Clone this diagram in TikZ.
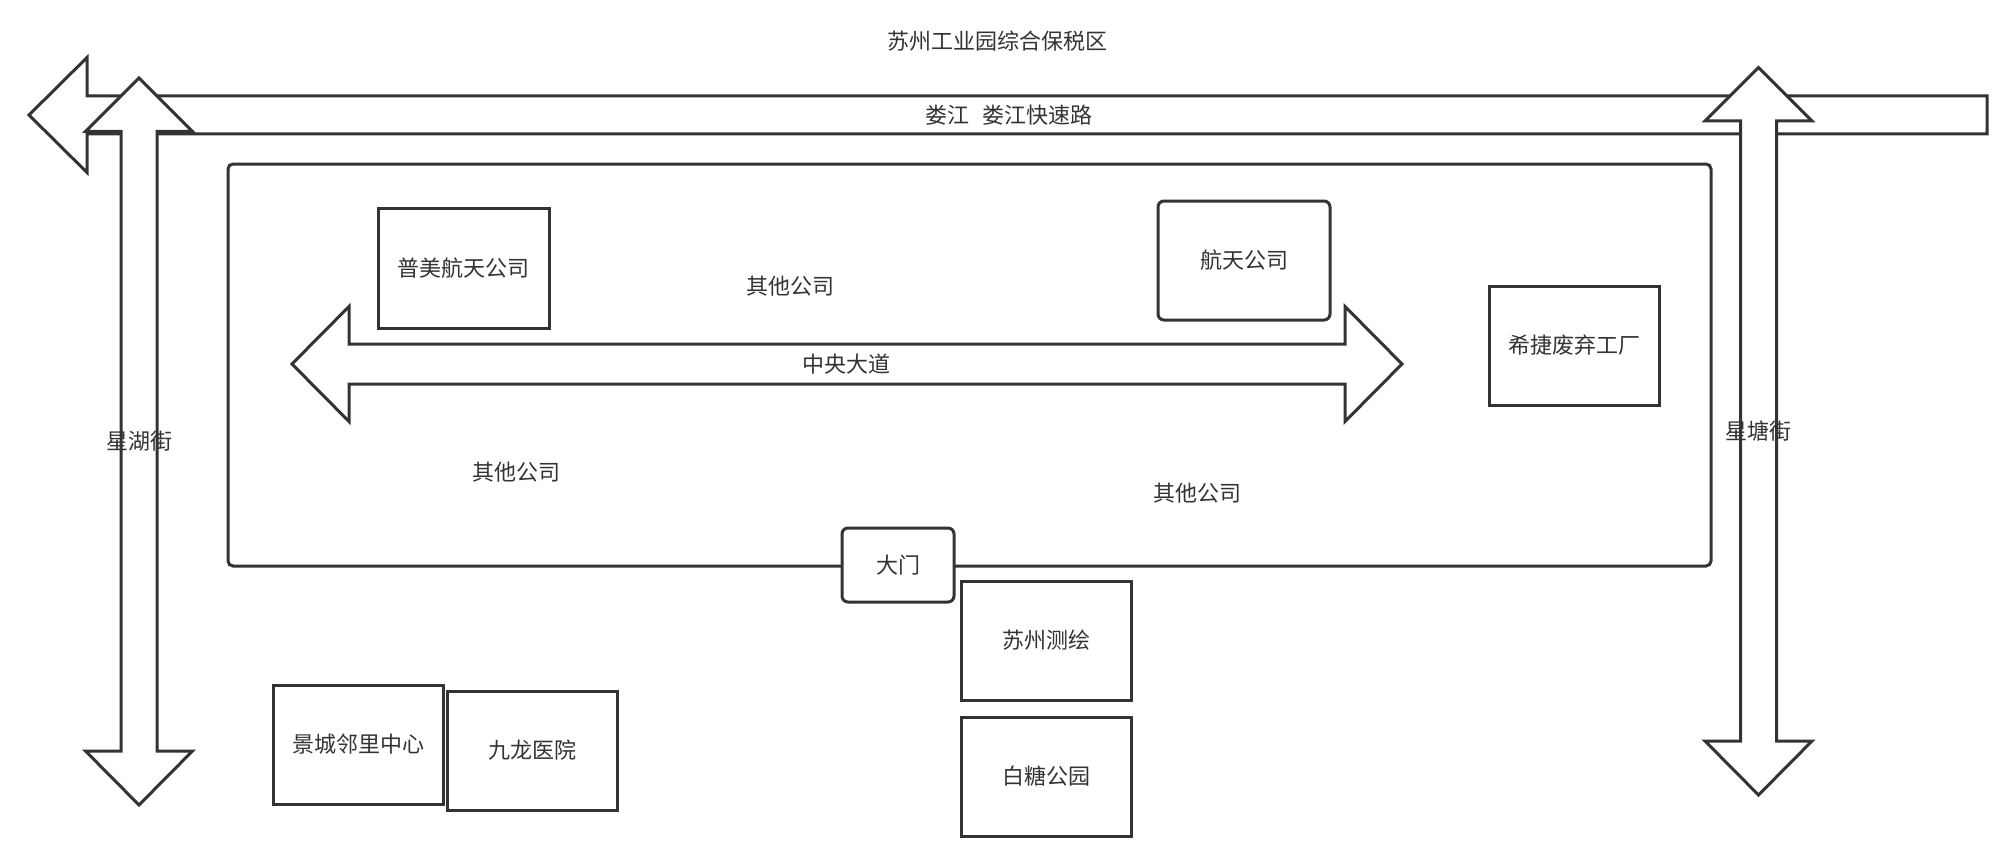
\documentclass[tikz,border=0pt]{standalone}
\usepackage{fontspec}
\setmainfont{Noto Sans CJK SC}
\definecolor{ink}{HTML}{333333}
\begin{document}
\begin{tikzpicture}[x=1pt,y=-1pt,
  lbl/.style={text=ink,font=\fontsize{22}{26}\selectfont,inner sep=0pt},
  road/.style={draw=ink,line width=3pt,fill=white,line join=miter},
  place/.style={draw=ink,line width=3pt,fill=white,inner sep=0pt,text=ink,font=\fontsize{22}{26}\selectfont},
  rplace/.style={place,rounded corners=6pt}]
\useasboundingbox (0,0) rectangle (2004,864);
% title
\node[lbl] (title) at (997,41) {苏州工业园综合保税区};
% 娄江 road
\draw[road] (1987,96) -- (87,96) -- (87,57.5) -- (29,115) -- (87,172.5) -- (87,134) -- (1987,134) -- cycle;
\node[lbl] (loujiang) at (1009,115) {娄江\hspace{0.6em}娄江快速路};
% 星湖街
\draw[road] (139,78) -- (192.5,131.5) -- (157,131.5) -- (157,751) -- (192.5,751) -- (139,805) -- (85.5,751) -- (121,751) -- (121,131.5) -- (85.5,131.5) -- cycle;
\node[lbl] (xinghu) at (139,441) {星湖街};
% 星塘街
\draw[road] (1758.5,67.5) -- (1812,121) -- (1776.5,121) -- (1776.5,741) -- (1812,741) -- (1758.5,795) -- (1705,741) -- (1740.5,741) -- (1740.5,121) -- (1705,121) -- cycle;
\node[lbl] (xingtang) at (1758.5,431) {星塘街};
% zone
\draw[draw=ink,line width=3pt,rounded corners=5pt] (228,164) rectangle (1711,566);
% 中央大道
\draw[road] (292,364) -- (349,306.5) -- (349,344) -- (1345,344) -- (1345,306.5) -- (1402,364) -- (1345,421.5) -- (1345,384) -- (349,384) -- (349,421.5) -- cycle;
\node[lbl] (zhongyang) at (846,364) {中央大道};
% places
\node[place,minimum width=171pt,minimum height=120pt] (pumei) at (463.5,268) {普美航天公司};
\node[rplace,minimum width=172pt,minimum height=119pt] (hangtian) at (1244,260.5) {航天公司};
\node[place,minimum width=170pt,minimum height=119pt] (xijie) at (1574,345.5) {希捷废弃工厂};
\node[lbl] (other1) at (790,286) {其他公司};
\node[lbl] (other2) at (516,472) {其他公司};
\node[lbl] (other3) at (1197,493) {其他公司};
\node[rplace,minimum width=112pt,minimum height=74pt] (damen) at (898,565) {大门};
\node[place,minimum width=170pt,minimum height=119pt] (cehui) at (1046,640.5) {苏州测绘};
\node[place,minimum width=170pt,minimum height=119pt] (baitang) at (1046,776.5) {白糖公园};
\node[place,minimum width=170pt,minimum height=119pt] (jingcheng) at (358,744.5) {景城邻里中心};
\node[place,minimum width=170pt,minimum height=119pt] (jiulong) at (532,750.5) {九龙医院};
\end{tikzpicture}
\end{document}
